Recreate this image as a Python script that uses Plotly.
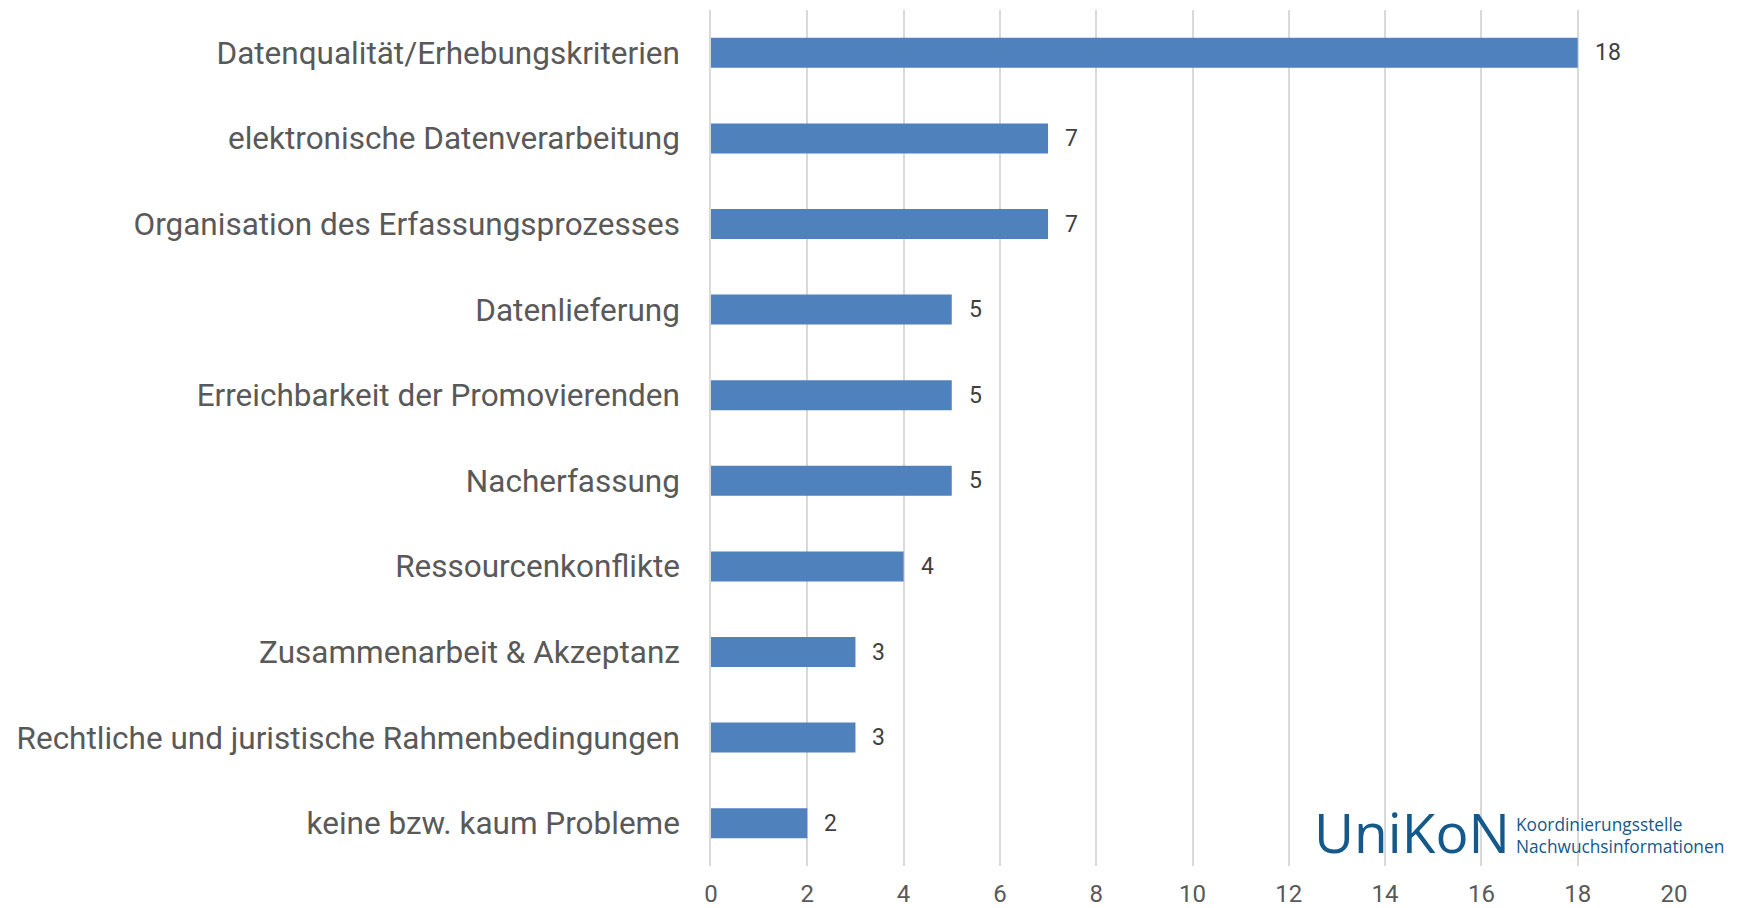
import plotly.graph_objects as go

categories = [
    "Datenqualität/Erhebungskriterien",
    "elektronische Datenverarbeitung",
    "Organisation des Erfassungsprozesses",
    "Datenlieferung",
    "Erreichbarkeit der Promovierenden",
    "Nacherfassung",
    "Ressourcenkonflikte",
    "Zusammenarbeit & Akzeptanz",
    "Rechtliche und juristische Rahmenbedingungen",
    "keine bzw. kaum Probleme",
]
values = [18, 7, 7, 5, 5, 5, 4, 3, 3, 2]
x_ticks = [0, 2, 4, 6, 8, 10, 12, 14, 16, 18, 20]

fig = go.Figure()
fig.add_trace(go.Bar(
    x=values, y=categories, orientation="h",
    marker=dict(color="#4f81bd", line=dict(width=0)),
    width=0.35, hoverinfo="x+y",
))

for v, c in zip(values, categories):
    fig.add_annotation(x=v, y=c, text=str(v), showarrow=False,
                       xanchor="left", xshift=15,
                       font=dict(family="Roboto", size=23, color="#404040"))

# logo
fig.add_annotation(xref="paper", yref="paper", x=0.624, y=0.04,
                   xanchor="left", yanchor="middle", showarrow=False,
                   text="UniKoN",
                   font=dict(family="Open Sans", size=55, color="#13598b"))
fig.add_annotation(xref="paper", yref="paper", x=0.834, y=0.036,
                   xanchor="left", yanchor="middle", showarrow=False, align="left",
                   text="Koordinierungsstelle<br>Nachwuchsinformationen",
                   font=dict(family="Open Sans", size=17.3, color="#13598b"))

fig.update_layout(
    width=1734, height=900,
    margin=dict(l=703, r=68, t=2, b=42, autoexpand=False),
    paper_bgcolor="white", plot_bgcolor="white",
    showlegend=False,
    xaxis=dict(range=[0, 20], tickvals=x_ticks, showgrid=True, automargin=False,
               gridcolor="#d9d9d9", gridwidth=1.5, zeroline=False,
               showline=False, ticks="", ticklabelstandoff=11,
               tickfont=dict(family="Roboto", size=24, color="#595959")),
    yaxis=dict(autorange="reversed", showgrid=False, zeroline=False, automargin=False,
               showline=True, linecolor="#d9d9d9", linewidth=1.5,
               ticks="", ticklabelstandoff=23,
               tickfont=dict(family="Roboto", size=31.5, color="#595959")),
)

fig.write_html("out.html")
